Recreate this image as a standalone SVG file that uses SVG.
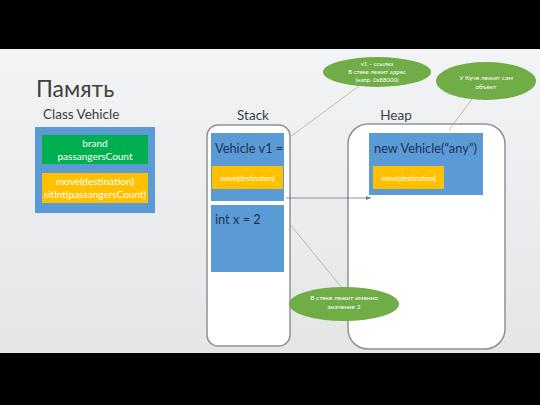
<svg xmlns="http://www.w3.org/2000/svg" width="540" height="405" viewBox="0 0 540 405">
<defs>
<linearGradient id="bg" x1="0" y1="0" x2="0" y2="1">
<stop offset="0" stop-color="#f4f6f9"/>
<stop offset="1" stop-color="#e3e3e3"/>
</linearGradient>
<marker id="arr" markerWidth="6" markerHeight="6" refX="5" refY="3" orient="auto" markerUnits="userSpaceOnUse">
<path d="M0,1 L5,3 L0,5 z" fill="#6d7a8c"/>
</marker>
<style>
text{font-family:Lato,"Liberation Sans",sans-serif}
.lbl{fill:#404040}
.blue{fill:#5b9bd5}
.green{fill:#00b050}
.orange{fill:#ffc000}
.mem{fill:#fff;stroke:#8d929b;stroke-width:1.5}
.dark{fill:#1f3255;font-size:12.8px}
.w{fill:#fff;text-anchor:middle}
.ell{fill:#70ad47}
.call{stroke:#a9b58f;stroke-width:0.8;fill:none}
</style>
</defs>
<rect width="540" height="405" fill="url(#bg)"/>
<rect x="0" y="0" width="540" height="49" fill="#000"/>
<rect x="0" y="353" width="540" height="52" fill="#000"/>

<text x="36" y="97" class="lbl" font-size="23">Память</text>
<text x="43" y="119" class="lbl" font-size="13.5">Class Vehicle</text>
<text x="253" y="120" class="lbl" font-size="13.5" text-anchor="middle">Stack</text>
<text x="396" y="120" class="lbl" font-size="13.5" text-anchor="middle">Heap</text>

<g id="class-vehicle">
<rect x="35" y="127" width="120" height="86" class="blue"/>
<rect x="42" y="135" width="106" height="29" class="green"/>
<text x="95" y="147" class="w" font-size="10">brand</text>
<text x="95" y="160" class="w" font-size="10">passangersCount</text>
<rect x="42" y="173" width="106" height="30" class="orange"/>
<text x="95" y="185" class="w" font-size="10">move(destination)</text>
<text x="95" y="198" class="w" font-size="10">sitInt(passangersCount)</text>
</g>

<g id="stack">
<rect x="207" y="125" width="83" height="221" rx="11" class="mem"/>
<rect x="211" y="133" width="73" height="68" class="blue"/>
<text x="215" y="153" class="dark">Vehicle v1 =</text>
<rect x="212" y="166" width="71" height="23" class="orange"/>
<text x="247.5" y="181" class="w" font-size="7">move(destination)</text>
<rect x="211" y="205" width="73" height="67" class="blue"/>
<text x="215" y="224" class="dark">int x = 2</text>
</g>

<g id="heap">
<rect x="348" y="124" width="157" height="225" rx="20" class="mem"/>
<rect x="369" y="133" width="114" height="62" class="blue"/>
<text x="374" y="153" class="dark">new Vehicle(“any”)</text>
<rect x="373" y="166" width="71" height="23" class="orange"/>
<text x="408.5" y="181" class="w" font-size="7">move(destination)</text>
</g>

<g id="connectors">
<line x1="286" y1="198" x2="371" y2="198" stroke="#6d7a8c" stroke-width="0.8" marker-end="url(#arr)"/>
<line x1="359" y1="86" x2="290" y2="137" class="call"/>
<line x1="472" y1="99" x2="449" y2="130" class="call"/>
<line x1="289" y1="223" x2="342" y2="288" class="call"/>
</g>

<g id="callout-ref">
<ellipse cx="377" cy="72" rx="54" ry="15" class="ell"/>
<text x="377" y="66" class="w" font-size="6">v1 – ссылка</text>
<text x="377" y="74" class="w" font-size="6">В стеке лежит адрес</text>
<text x="377" y="82" class="w" font-size="6">(напр. 0x88000)</text>
</g>

<g id="callout-heap">
<ellipse cx="486" cy="81" rx="50" ry="19" class="ell"/>
<text x="486" y="80" class="w" font-size="6.5">У Куче лежит сам</text>
<text x="486" y="89" class="w" font-size="6.5">объект</text>
</g>

<g id="callout-value">
<ellipse cx="344" cy="304" rx="55" ry="17" class="ell"/>
<text x="344" y="300" class="w" font-size="6.5">В стеке лежит именно</text>
<text x="344" y="309" class="w" font-size="6.5">значение 2</text>
</g>
</svg>
